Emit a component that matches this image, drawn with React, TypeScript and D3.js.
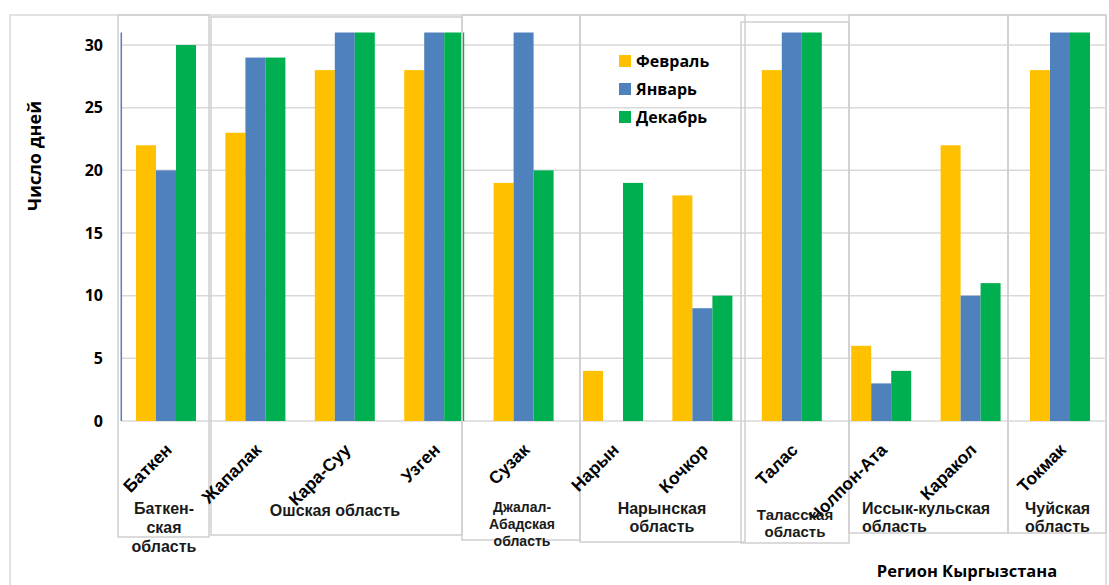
import React from "react";
import * as d3 from "d3";

const categories = ["Баткен", "Жапалак", "Кара-Суу", "Узген", "Сузак", "Нарын", "Кочкор", "Талас", "Чолпон-Ата", "Каракол", "Токмак"];
const seriesNames = ["Февраль", "Январь", "Декабрь"];
const february = [22, 23, 28, 28, 19, 4, 18, 28, 6, 22, 28];
const january = [20, 29, 31, 31, 31, 0, 9, 31, 3, 10, 31];
const december = [30, 29, 31, 31, 20, 19, 10, 31, 4, 11, 31];
const yTicks = [0, 5, 10, 15, 20, 25, 30];
const groupLabels = [
  ["Баткен-", "ская", "область"],
  ["Ошская область"],
  ["Джалал-", "Абадская", "область"],
  ["Нарынская", "область"],
  ["Таласская", "область"],
  ["Иссык-кульская", "область"],
  ["Чуйская", "область"],
];

const COLORS = ["#FFC000", "#4F81BD", "#00B050"];

// annotation layout (boxes around region groups)
const boxes = [
  { x0: 118, x1: 209, y0: 15, y1: 537, lx: 164, ly: 508, lh: 19, fs: 16, anchor: "middle" },
  { x0: 211, x1: 462, y0: 17, y1: 535, lx: 335, ly: 510, lh: 18, fs: 16, anchor: "middle" },
  { x0: 462, x1: 580, y0: 15, y1: 540, lx: 522, ly: 507, lh: 17, fs: 14, anchor: "middle" },
  { x0: 580, x1: 745, y0: 15, y1: 542, lx: 662, ly: 508, lh: 18, fs: 16, anchor: "middle" },
  { x0: 741, x1: 849, y0: 22, y1: 543, lx: 795, ly: 515, lh: 17, fs: 15, anchor: "middle" },
  { x0: 849, x1: 1008, y0: 15, y1: 533, lx: 862, ly: 508, lh: 18, fs: 16, anchor: "start" },
  { x0: 1008, x1: 1106, y0: 15, y1: 533, lx: 1025, ly: 508, lh: 18, fs: 16, anchor: "start" },
];

export default function App() {
  const W = 1109, H = 585;
  const left = 121.3, right = 1104.7, top = 32.5, bottom = 421;
  const x = d3.scaleBand<string>().domain(categories).range([left, right]).paddingInner(0).paddingOuter(0);
  const y = d3.scaleLinear().domain([0, 31]).range([bottom, top]);
  const series = [february, january, december];
  const barW = 20;
  const segoe = "'Open Sans', 'Noto Sans', sans-serif";
  const arial = "'Liberation Sans', Arial, sans-serif";

  return (
    <svg width={W} height={H} style={{ position: "absolute", left: 0, top: 0, background: "#fff" }}>
      <rect x={10} y={15} width={1096} height={600} fill="#fff" stroke="#d9d9d9" strokeWidth={1.5} />
      {yTicks.map((t) => (
        <line key={"g" + t} x1={left} x2={right} y1={y(t)} y2={y(t)} stroke="#d9d9d9" strokeWidth={1.5} />
      ))}
      {series.map((vals, si) =>
        categories.map((c, ci) => {
          const v = vals[ci];
          if (!v) return null;
          const cx = (x(c) as number) + x.bandwidth() / 2;
          return (
            <rect key={si + "-" + ci} x={cx - 1.5 * barW + si * barW} y={y(v)} width={barW} height={bottom - y(v)} fill={COLORS[si]} />
          );
        })
      )}
      <line x1={left} x2={left} y1={top} y2={bottom} stroke="#4F81BD" strokeWidth={1.5} />
      {yTicks.map((t) => (
        <text key={"t" + t} x={103} y={y(t)} dy="0.35em" textAnchor="end" fontFamily={segoe} fontWeight="bold" fontSize={16} fill="#000">
          {t}
        </text>
      ))}
      <text transform="translate(41,156) rotate(-90)" textAnchor="middle" fontFamily={segoe} fontWeight="bold" fontSize={18} fill="#000">
        Число дней
      </text>
      {boxes.map((b, i) => (
        <rect key={"b" + i} x={b.x0} y={b.y0} width={b.x1 - b.x0} height={b.y1 - b.y0} fill="none" stroke="#cfcfcf" strokeWidth={1.5} />
      ))}
      {categories.map((c) => {
        const cx = (x(c) as number) + x.bandwidth() / 2;
        return (
          <text key={"c" + c} transform={`translate(${cx + 7},451) rotate(-45)`} textAnchor="end" fontFamily={arial} fontWeight="bold" fontSize={17.5} fill="#000">
            {c}
          </text>
        );
      })}
      {boxes.map((b, i) => (
        <text key={"l" + i} x={b.lx} y={b.ly} textAnchor={b.anchor as any} fontFamily={arial} fontWeight="bold" fontSize={b.fs} fill="#1a1a1a">
          {groupLabels[i].map((ln, k) => (
            <tspan key={k} x={b.lx} y={b.ly + k * b.lh} dy="0.35em">
              {ln}
            </tspan>
          ))}
        </text>
      ))}
      {seriesNames.map((s, i) => (
        <g key={"lg" + s} transform={`translate(619,${61 + i * 28})`}>
          <rect x={0} y={-6} width={12} height={12} fill={COLORS[i]} />
          <text x={17} y={0} dy="0.35em" fontFamily={segoe} fontWeight="bold" fontSize={16} fill="#000">
            {s}
          </text>
        </g>
      ))}
      <text x={967} y={571} dy="0.35em" textAnchor="middle" fontFamily={segoe} fontWeight="bold" fontSize={16.5} fill="#000">
        Регион Кыргызстана
      </text>
    </svg>
  );
}
